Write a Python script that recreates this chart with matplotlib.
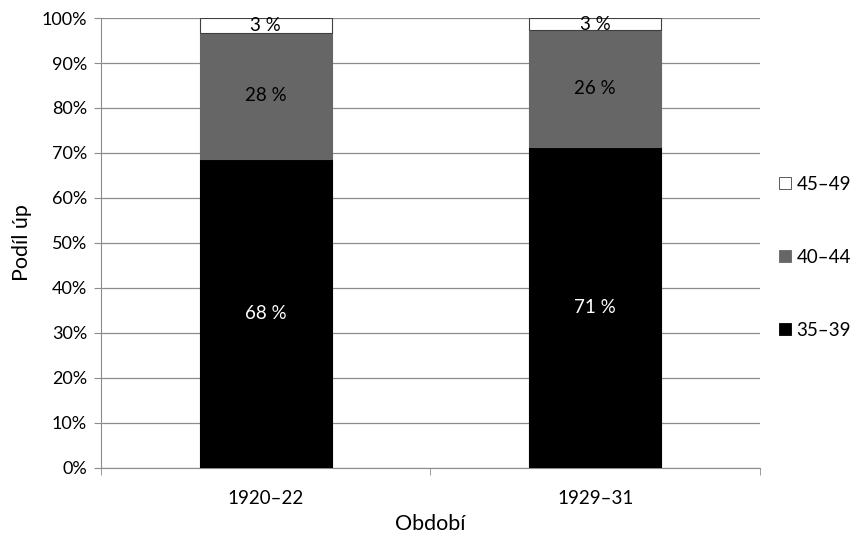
import matplotlib.pyplot as plt
from matplotlib.patches import Patch
import numpy as np

plt.rcParams['font.family'] = ['Lato', 'DejaVu Sans']

# data (share of women, %)
periods = ['1920\u201322', '1929\u201331']
age_groups = ['35\u201339', '40\u201344', '45\u201349']
share_35_39 = [68.7, 71.3]
share_40_44 = [28.0, 26.0]
share_45_49 = [3.3, 2.7]
labels_35_39 = ['68 %', '71 %']
labels_40_44 = ['28 %', '26 %']
labels_45_49 = ['3 %', '3 %']

colors = ['black', '#666666', 'white']
text_colors = ['white', 'black', 'black']

fig = plt.figure(figsize=(8.52, 5.36), dpi=100)
ax = fig.add_axes([0.1185, 0.127, 0.7735, 0.8394])

x = np.arange(len(periods))
bottom = np.zeros(len(periods))
series = [share_35_39, share_40_44, share_45_49]
labels = [labels_35_39, labels_40_44, labels_45_49]
for vals, lab, col, tcol in zip(series, labels, colors, text_colors):
    bars = ax.bar(x, vals, width=0.4, bottom=bottom, color=col,
                  edgecolor='#404040' if col == 'white' else col, linewidth=0.8, zorder=3)
    for xi, b, v, t in zip(x, bottom, vals, lab):
        ax.text(xi, b + v / 2, t, ha='center', va='center', color=tcol, fontsize=13.5, zorder=4)
    bottom += np.array(vals)

ax.set_xlim(-0.5, 1.5)
ax.set_ylim(0, 100)
ax.set_yticks(np.arange(0, 101, 10))
ax.set_yticklabels([f'{v}%' for v in range(0, 101, 10)], fontsize=13)
ax.yaxis.grid(True, color='#8c8c8c', linewidth=0.9, zorder=0)
ax.set_axisbelow(True)

ax.set_xticks(x)
ax.set_xticklabels(periods, fontsize=13.5)
ax.tick_params(axis='x', length=0, pad=16)
ax.set_xticks([-0.5, 0.5, 1.5], minor=True)
ax.tick_params(axis='x', which='minor', length=5, color='#8c8c8c')
ax.tick_params(axis='y', length=5, color='#8c8c8c', pad=5)

for s in ['top', 'right']:
    ax.spines[s].set_visible(False)
for s in ['left', 'bottom']:
    ax.spines[s].set_color('#8c8c8c')

ax.set_xlabel('Období', fontsize=15.5, labelpad=5)
ax.set_ylabel('Podíl úp', fontsize=15.5, labelpad=7)

handles = [Patch(facecolor=c, edgecolor='#404040' if c == 'white' else c, linewidth=0.6) for c in colors]
fig.legend(handles[::-1], age_groups[::-1], loc='center left', bbox_to_anchor=(0.895, 0.52),
           frameon=False, fontsize=13.5, handlelength=0.6, handleheight=0.6,
           handletextpad=0.3, labelspacing=3.0)

fig.savefig('out.png', dpi=100)
